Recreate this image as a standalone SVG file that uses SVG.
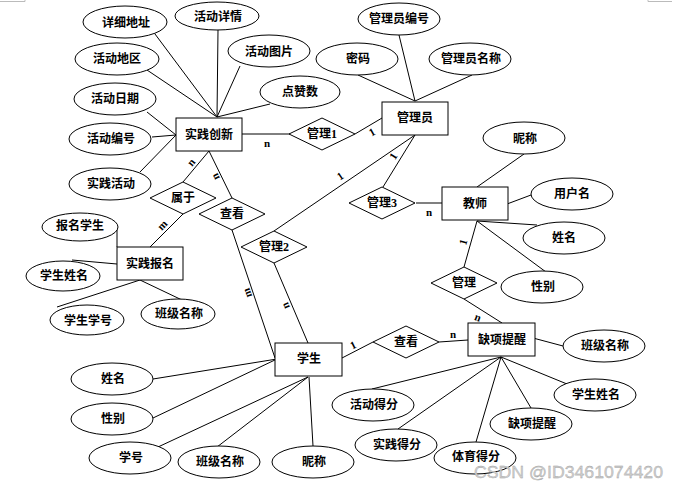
<svg xmlns="http://www.w3.org/2000/svg" width="680" height="488" viewBox="0 0 680 488">
<style>
.ln{stroke:#000;stroke-width:1;fill:none}
.sh{fill:#fff;stroke:#000;stroke-width:1}
.t{font-family:"Liberation Serif","Noto Sans CJK SC",serif;font-size:12px;font-weight:bold;fill:#000;text-anchor:middle;dominant-baseline:central}
.lb{font-family:"Liberation Serif",serif;font-size:11px;font-weight:bold;fill:#000;text-anchor:middle;dominant-baseline:central}
</style>
<rect width="680" height="488" fill="#fff"/>
<path d="M0 1.5H25V0M648 0V1.5H672" stroke="#bbb" stroke-width="1" fill="none"/>
<g id="connectors">
<line class="ln" x1="152" y1="30" x2="217" y2="117"/>
<line class="ln" x1="218" y1="30" x2="217" y2="117"/>
<line class="ln" x1="240" y1="66" x2="217" y2="117"/>
<line class="ln" x1="270" y1="104" x2="217" y2="117"/>
<line class="ln" x1="147" y1="70" x2="217" y2="117"/>
<line class="ln" x1="147" y1="112" x2="176" y2="135"/>
<line class="ln" x1="152" y1="137" x2="176" y2="135"/>
<line class="ln" x1="140" y1="172" x2="176" y2="135"/>
<line class="ln" x1="242" y1="134" x2="290" y2="134"/>
<line class="ln" x1="355" y1="134" x2="382" y2="118"/>
<line class="ln" x1="209" y1="151" x2="183" y2="182"/>
<line class="ln" x1="209" y1="151" x2="232" y2="198"/>
<line class="ln" x1="183" y1="214" x2="150" y2="247"/>
<line class="ln" x1="232" y1="230" x2="275" y2="358"/>
<line class="ln" x1="399" y1="35" x2="415" y2="101"/>
<line class="ln" x1="358" y1="75" x2="415" y2="101"/>
<line class="ln" x1="472" y1="75" x2="415" y2="101"/>
<line class="ln" x1="415" y1="135" x2="274" y2="231"/>
<line class="ln" x1="415" y1="135" x2="383" y2="187"/>
<line x1="416" y1="203" x2="443" y2="203" stroke="#808080" stroke-width="2"/>
<line class="ln" x1="524" y1="154" x2="477" y2="187"/>
<line class="ln" x1="531" y1="195" x2="507" y2="204"/>
<line class="ln" x1="477" y1="221" x2="537" y2="225"/>
<line class="ln" x1="477" y1="221" x2="546" y2="272"/>
<line class="ln" x1="477" y1="221" x2="464" y2="267"/>
<line class="ln" x1="464" y1="299" x2="502" y2="323"/>
<line class="ln" x1="117" y1="227" x2="117" y2="247"/>
<line class="ln" x1="72" y1="260" x2="117" y2="264"/>
<line class="ln" x1="57" y1="307" x2="140" y2="280"/>
<line class="ln" x1="182" y1="300" x2="140" y2="280"/>
<line class="ln" x1="308" y1="343" x2="274" y2="263"/>
<line class="ln" x1="153" y1="379" x2="277" y2="359"/>
<line class="ln" x1="153" y1="418" x2="277" y2="359"/>
<line class="ln" x1="158" y1="447" x2="308" y2="377"/>
<line class="ln" x1="217" y1="447" x2="308" y2="377"/>
<line class="ln" x1="313" y1="446" x2="309" y2="377"/>
<line class="ln" x1="342" y1="358" x2="373" y2="342"/>
<line class="ln" x1="439" y1="342" x2="468" y2="340"/>
<line class="ln" x1="533" y1="338" x2="563" y2="346"/>
<line class="ln" x1="501" y1="357" x2="567" y2="384"/>
<line class="ln" x1="501" y1="357" x2="531" y2="408"/>
<line class="ln" x1="501" y1="357" x2="476" y2="442"/>
<line class="ln" x1="501" y1="357" x2="398" y2="429"/>
<line class="ln" x1="501" y1="357" x2="372" y2="389"/>
<text class="lb" x="267" y="143">n</text>
<text class="lb" transform="translate(372,132) rotate(-30)">1</text>
<text class="lb" transform="translate(340,176) rotate(-34)">1</text>
<text class="lb" transform="translate(393,156) rotate(-58)">1</text>
<text class="lb" x="429" y="212">n</text>
<text class="lb" transform="translate(463,242) rotate(-74)">1</text>
<text class="lb" transform="translate(478,317) rotate(20)">n</text>
<text class="lb" transform="translate(353,345) rotate(-26)">1</text>
<text class="lb" x="453" y="334">n</text>
<text class="lb" transform="translate(191,162) rotate(-50)">n</text>
<text class="lb" transform="translate(215,177) rotate(-116)">n</text>
<text class="lb" transform="translate(162,225) rotate(-46)">m</text>
<text class="lb" transform="translate(247,293) rotate(-110)">m</text>
<text class="lb" transform="translate(285,306) rotate(-113)">n</text>
</g>
<g id="e-xxdz"><ellipse class="sh" cx="125" cy="22" rx="42" ry="16"/><text class="t" x="126" y="23">详细地址</text></g>
<g id="e-hdxq"><ellipse class="sh" cx="217" cy="16" rx="42" ry="14"/><text class="t" x="218" y="17">活动详情</text></g>
<g id="e-hddq"><ellipse class="sh" cx="117" cy="59" rx="42" ry="16"/><text class="t" x="117" y="59">活动地区</text></g>
<g id="e-hdtp"><ellipse class="sh" cx="269" cy="51" rx="41" ry="16"/><text class="t" x="269" y="52">活动图片</text></g>
<g id="e-dzs"><ellipse class="sh" cx="300" cy="92" rx="40" ry="16"/><text class="t" x="300" y="92">点赞数</text></g>
<g id="e-hdrq"><ellipse class="sh" cx="115" cy="99" rx="41" ry="16"/><text class="t" x="115" y="99">活动日期</text></g>
<g id="e-hdbh"><ellipse class="sh" cx="110" cy="139" rx="41" ry="16"/><text class="t" x="111" y="139">活动编号</text></g>
<g id="e-sjhd"><ellipse class="sh" cx="110" cy="184" rx="41" ry="16"/><text class="t" x="111" y="184">实践活动</text></g>
<g id="e-glybh"><ellipse class="sh" cx="399" cy="19" rx="41" ry="16"/><text class="t" x="399" y="19">管理员编号</text></g>
<g id="e-mm"><ellipse class="sh" cx="357" cy="59" rx="41" ry="16"/><text class="t" x="358" y="59">密码</text></g>
<g id="e-glymc"><ellipse class="sh" cx="470" cy="59" rx="41" ry="16"/><text class="t" x="471" y="59">管理员名称</text></g>
<g id="e-t-nc"><ellipse class="sh" cx="524" cy="138" rx="41" ry="16"/><text class="t" x="525" y="139">昵称</text></g>
<g id="e-t-yhm"><ellipse class="sh" cx="572" cy="194" rx="41" ry="16"/><text class="t" x="572" y="194">用户名</text></g>
<g id="e-t-xm"><ellipse class="sh" cx="564" cy="238" rx="41" ry="16"/><text class="t" x="564" y="238">姓名</text></g>
<g id="e-t-xb"><ellipse class="sh" cx="542" cy="287" rx="41" ry="16"/><text class="t" x="543" y="287">性别</text></g>
<g id="e-bmxs"><ellipse class="sh" cx="80" cy="227" rx="38" ry="14"/><text class="t" x="80" y="226">报名学生</text></g>
<g id="e-b-xsxm"><ellipse class="sh" cx="63" cy="276" rx="37" ry="15"/><text class="t" x="64" y="276">学生姓名</text></g>
<g id="e-b-xsxh"><ellipse class="sh" cx="87" cy="320" rx="37" ry="15"/><text class="t" x="88" y="321">学生学号</text></g>
<g id="e-b-bjmc"><ellipse class="sh" cx="178" cy="314" rx="37" ry="15"/><text class="t" x="179" y="314">班级名称</text></g>
<g id="e-s-xm"><ellipse class="sh" cx="112" cy="379" rx="41" ry="16"/><text class="t" x="113" y="379">姓名</text></g>
<g id="e-s-xb"><ellipse class="sh" cx="112" cy="419" rx="41" ry="16"/><text class="t" x="113" y="419">性别</text></g>
<g id="e-s-xh"><ellipse class="sh" cx="130" cy="458" rx="41" ry="16"/><text class="t" x="131" y="458">学号</text></g>
<g id="e-s-bjmc"><ellipse class="sh" cx="219" cy="462" rx="41" ry="16"/><text class="t" x="220" y="462">班级名称</text></g>
<g id="e-s-nc"><ellipse class="sh" cx="313" cy="462" rx="41" ry="16"/><text class="t" x="314" y="462">昵称</text></g>
<g id="e-q-bjmc"><ellipse class="sh" cx="604" cy="346" rx="41" ry="16"/><text class="t" x="605" y="346">班级名称</text></g>
<g id="e-q-xsxm"><ellipse class="sh" cx="595" cy="395" rx="41" ry="16"/><text class="t" x="596" y="395">学生姓名</text></g>
<g id="e-q-qxtx"><ellipse class="sh" cx="531" cy="424" rx="41" ry="16"/><text class="t" x="532" y="424">缺项提醒</text></g>
<g id="e-q-tydf"><ellipse class="sh" cx="475" cy="458" rx="41" ry="16"/><text class="t" x="476" y="457">体育得分</text></g>
<g id="e-q-sjdf"><ellipse class="sh" cx="396" cy="445" rx="41" ry="16"/><text class="t" x="397" y="445">实践得分</text></g>
<g id="e-q-hddf"><ellipse class="sh" cx="373" cy="405" rx="41" ry="16"/><text class="t" x="374" y="405">活动得分</text></g>
<g id="sjcx"><rect class="sh" x="176" y="118" width="66" height="33"/><text class="t" x="209" y="135">实践创新</text></g>
<g id="gly"><rect class="sh" x="382" y="102" width="66" height="33"/><text class="t" x="415" y="118">管理员</text></g>
<g id="js"><rect class="sh" x="442" y="187" width="66" height="33"/><text class="t" x="475" y="204">教师</text></g>
<g id="sjbm"><rect class="sh" x="117" y="247" width="66" height="33"/><text class="t" x="150" y="264">实践报名</text></g>
<g id="xs"><rect class="sh" x="275" y="343" width="67" height="33"/><text class="t" x="309" y="359">学生</text></g>
<g id="qxtx"><rect class="sh" x="468" y="323" width="67" height="33"/><text class="t" x="502" y="340">缺项提醒</text></g>
<g id="gl1"><polygon class="sh" points="289,134 322,118 355,134 322,150"/><text class="t" x="322" y="134">管理1</text></g>
<g id="gl3"><polygon class="sh" points="349,203 382,187 415,203 382,219"/><text class="t" x="382" y="203">管理3</text></g>
<g id="gl2"><polygon class="sh" points="241,247 274,231 307,247 274,263"/><text class="t" x="274" y="247">管理2</text></g>
<g id="sy"><polygon class="sh" points="150,198 183,182 216,198 183,214"/><text class="t" x="183" y="198">属于</text></g>
<g id="ck1"><polygon class="sh" points="199,214 232,198 265,214 232,230"/><text class="t" x="232" y="214">查看</text></g>
<g id="gl"><polygon class="sh" points="431,283 464,267 497,283 464,299"/><text class="t" x="464" y="283">管理</text></g>
<g id="ck2"><polygon class="sh" points="373,342 406,326 439,342 406,358"/><text class="t" x="406" y="342">查看</text></g>
<text x="474" y="478" font-family="Liberation Sans,Arial,sans-serif" font-size="16" fill="#d0d0d0" stroke="#9a9a9a" stroke-width="0.3" textLength="189" lengthAdjust="spacingAndGlyphs">CSDN @ID3461074420</text>
</svg>
